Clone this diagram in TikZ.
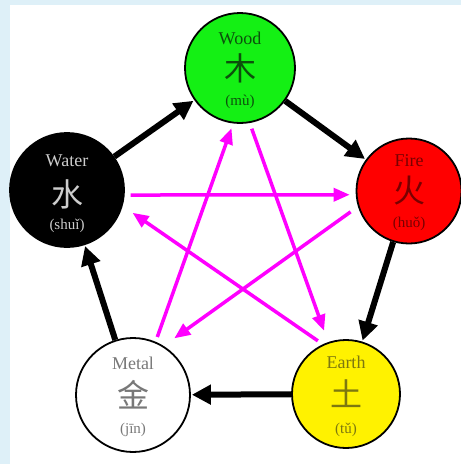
\documentclass[tikz,border=0pt]{standalone}
\usepackage{fontspec}
\setmainfont{Liberation Serif}
\newfontfamily\cjk{Noto Sans CJK SC}
\usetikzlibrary{arrows.meta}
\definecolor{bgblue}{RGB}{222,240,248}
\definecolor{ctlpink}{RGB}{255,0,255}
\definecolor{woodgreen}{RGB}{20,240,20}
\definecolor{woodtext}{RGB}{12,80,12}
\definecolor{firetext}{RGB}{120,0,0}
\definecolor{earthtext}{RGB}{125,120,15}
\definecolor{metaltext}{RGB}{120,120,120}
\definecolor{watertext}{RGB}{205,205,205}
\begin{document}
\begin{tikzpicture}[x=1pt,y=-1pt,
  elem/.style={circle,draw=black,line width=1.8pt,minimum size=#1,inner sep=0pt},
  gen/.style={line width=6pt,-{Triangle[length=19pt,width=19pt]},shorten >=1pt},
  ctl/.style={draw=ctlpink,line width=3.5pt,-{Triangle[length=16pt,width=13pt]}},
  nm/.style={font=\fontsize{18}{18}\selectfont,inner sep=0pt},
  ch/.style={font=\cjk\fontsize{32}{32}\selectfont,inner sep=0pt},
  py/.style={font=\fontsize{15}{15}\selectfont,inner sep=0pt}]
\fill[bgblue] (0,0) rectangle (461,464);
\fill[white] (10,5) rectangle (461,464);
\useasboundingbox (0,0) rectangle (461,464);
% elements
\node[elem=110pt,fill=woodgreen] (wood) at (240,68) {};
\node[elem=105pt,fill=red] (fire) at (409,191) {};
\node[elem=108pt,fill=yellow] (earth) at (346,394) {};
\node[elem=114pt,fill=white] (metal) at (133,395) {};
\node[elem=114pt,fill=black] (water) at (67,190) {};
% texts
\node[nm,text=woodtext] (woodname) at ([yshift=30pt]wood.center) {Wood};
\node[ch,text=woodtext] (woodch) at (wood.center) {木};
\node[py,text=woodtext] (woodpy) at ([yshift=-34pt]wood.center) {(mù)};
\node[nm,text=firetext] (firename) at ([yshift=30pt]fire.center) {Fire};
\node[ch,text=firetext] (firech) at (fire.center) {火};
\node[py,text=firetext] (firepy) at ([yshift=-33pt]fire.center) {(huǒ)};
\node[nm,text=earthtext] (earthname) at ([yshift=32pt]earth.center) {Earth};
\node[ch,text=earthtext] (earthch) at (earth.center) {土};
\node[py,text=earthtext] (earthpy) at ([yshift=-36pt]earth.center) {(tǔ)};
\node[nm,text=metaltext] (metalname) at ([yshift=32pt]metal.center) {Metal};
\node[ch,text=metaltext] (metalch) at (metal.center) {金};
\node[py,text=metaltext] (metalpy) at ([yshift=-35pt]metal.center) {(jīn)};
\node[nm,text=watertext] (watername) at ([yshift=29pt]water.center) {Water};
\node[ch,text=watertext] (waterch) at ([yshift=-4pt]water.center) {水};
\node[py,text=watertext] (waterpy) at ([yshift=-36pt]water.center) {(shuǐ)};
% controlling cycle (star)
\draw[ctl,shorten <=6pt,shorten >=6pt] (water.-5.4) -- (fire.184.8);
\draw[ctl,shorten <=6pt,shorten >=12pt] (earth.115.7) -- (water.-16.9);
\draw[ctl,shorten <=9pt,shorten >=13pt] (fire.197.8) -- (metal.58.3);
\draw[ctl,shorten <=5pt,shorten >=5pt] (metal.67.2) -- (wood.-97.6);
\draw[ctl,shorten <=6pt,shorten >=12pt] (wood.-80.5) -- (earth.109.2);
% generating cycle
\draw[gen] (water) -- (wood);
\draw[gen] (wood) -- (fire);
\draw[gen] (fire) -- (earth);
\draw[gen] (earth) -- (metal);
\draw[gen] (metal) -- (water);
\end{tikzpicture}
\end{document}
